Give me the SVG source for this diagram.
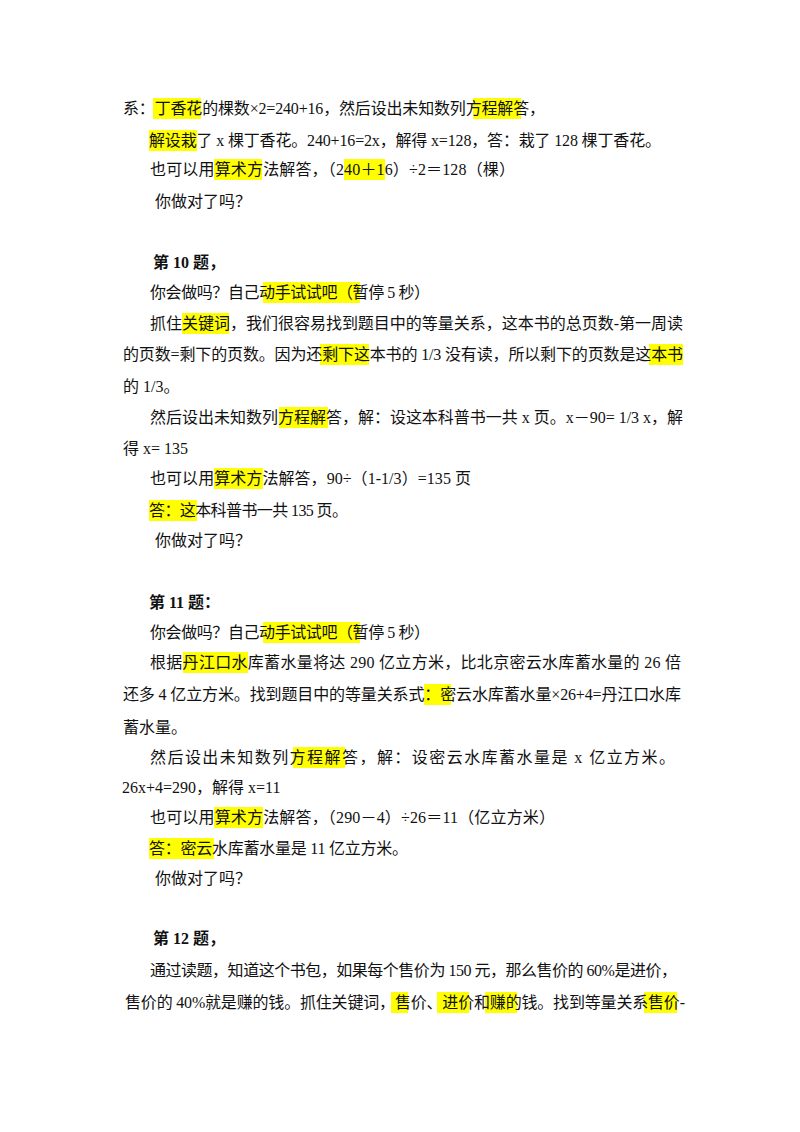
<svg xmlns="http://www.w3.org/2000/svg" width="800" height="1132" viewBox="0 0 800 1132">
<style>
text{font-family:"Liberation Serif","Noto Sans CJK SC",serif;font-size:16px;fill:#111}
.b{font-weight:bold}
.h{fill:#ffff00}
</style>
<rect width="800" height="1132" fill="#fff"/>
<g id="highlights">
<rect class="h" x="153" y="98" width="48" height="21"/>
<rect class="h" x="473" y="98" width="48" height="21"/>
<rect class="h" x="149" y="130" width="48" height="21"/>
<rect class="h" x="214" y="159" width="48" height="21"/>
<rect class="h" x="344" y="159" width="41" height="21"/>
<rect class="h" x="263" y="282" width="97" height="21"/>
<rect class="h" x="182" y="313" width="47" height="21"/>
<rect class="h" x="320" y="344" width="49" height="21"/>
<rect class="h" x="649" y="344" width="34" height="21"/>
<rect class="h" x="279" y="407" width="49" height="21"/>
<rect class="h" x="214" y="468" width="49" height="21"/>
<rect class="h" x="149" y="500" width="48" height="21"/>
<rect class="h" x="263" y="622" width="97" height="21"/>
<rect class="h" x="183" y="652" width="65" height="21"/>
<rect class="h" x="424" y="684" width="27" height="21"/>
<rect class="h" x="293" y="747" width="52" height="21"/>
<rect class="h" x="214" y="807" width="49" height="21"/>
<rect class="h" x="149" y="838" width="65" height="21"/>
<rect class="h" x="391" y="992" width="17" height="21"/>
<rect class="h" x="437" y="992" width="32" height="21"/>
<rect class="h" x="485" y="992" width="32" height="21"/>
<rect class="h" x="644" y="992" width="33" height="21"/>
</g>
<g id="text">
<text x="123" y="114" textLength="422" lengthAdjust="spacing">系：丁香花的棵数×2=240+16，然后设出未知数列方程解答，</text>
<text x="149" y="146" textLength="512" lengthAdjust="spacing">解设栽了 x 棵丁香花。240+16=2x，解得 x=128，答：栽了 128 棵丁香花。</text>
<text x="150" y="175" textLength="365" lengthAdjust="spacing">也可以用算术方法解答，（240＋16）÷2＝128（棵）</text>
<text x="155" y="207">你做对了吗？</text>
<text class="b" x="153" y="268">第 10 题，</text>
<text x="150" y="298" textLength="280" lengthAdjust="spacing">你会做吗？自己动手试试吧（暂停 5 秒）</text>
<text x="150" y="329" textLength="533" lengthAdjust="spacing">抓住关键词，我们很容易找到题目中的等量关系，这本书的总页数-第一周读</text>
<text x="123" y="360" textLength="560" lengthAdjust="spacing">的页数=剩下的页数。因为还剩下这本书的 1/3 没有读，所以剩下的页数是这本书</text>
<text x="123" y="392">的 1/3。</text>
<text x="150" y="423" textLength="533" lengthAdjust="spacing">然后设出未知数列方程解答，解：设这本科普书一共 x 页。x－90= 1/3 x，解</text>
<text x="123" y="454">得 x= 135</text>
<text x="150" y="484" textLength="321" lengthAdjust="spacing">也可以用算术方法解答，90÷（1-1/3）=135 页</text>
<text x="149" y="516" textLength="199" lengthAdjust="spacing">答：这本科普书一共 135 页。</text>
<text x="155" y="546">你做对了吗？</text>
<text class="b" x="149" y="608">第 11 题：</text>
<text x="150" y="638" textLength="280" lengthAdjust="spacing">你会做吗？自己动手试试吧（暂停 5 秒）</text>
<text x="150" y="668" textLength="531" lengthAdjust="spacing">根据丹江口水库蓄水量将达 290 亿立方米，比北京密云水库蓄水量的 26 倍</text>
<text x="123" y="700" textLength="558" lengthAdjust="spacing">还多 4 亿立方米。找到题目中的等量关系式：密云水库蓄水量×26+4=丹江口水库</text>
<text x="123" y="733">蓄水量。</text>
<text x="150" y="763" textLength="525" lengthAdjust="spacing">然后设出未知数列方程解答，解：设密云水库蓄水量是 x 亿立方米。</text>
<text x="122" y="793">26x+4=290，解得  x=11</text>
<text x="150" y="823" textLength="405" lengthAdjust="spacing">也可以用算术方法解答，（290－4）÷26＝11（亿立方米）</text>
<text x="149" y="854" textLength="259" lengthAdjust="spacing">答：密云水库蓄水量是 11 亿立方米。</text>
<text x="155" y="884">你做对了吗？</text>
<text class="b" x="153" y="944">第 12 题，</text>
<text x="150" y="976" textLength="527" lengthAdjust="spacing">通过读题，知道这个书包，如果每个售价为 150 元，那么售价的 60%是进价，</text>
<text x="125" y="1008" textLength="560" lengthAdjust="spacing">售价的 40%就是赚的钱。抓住关键词，售价、进价和赚的钱。找到等量关系售价-</text>
</g>
</svg>
